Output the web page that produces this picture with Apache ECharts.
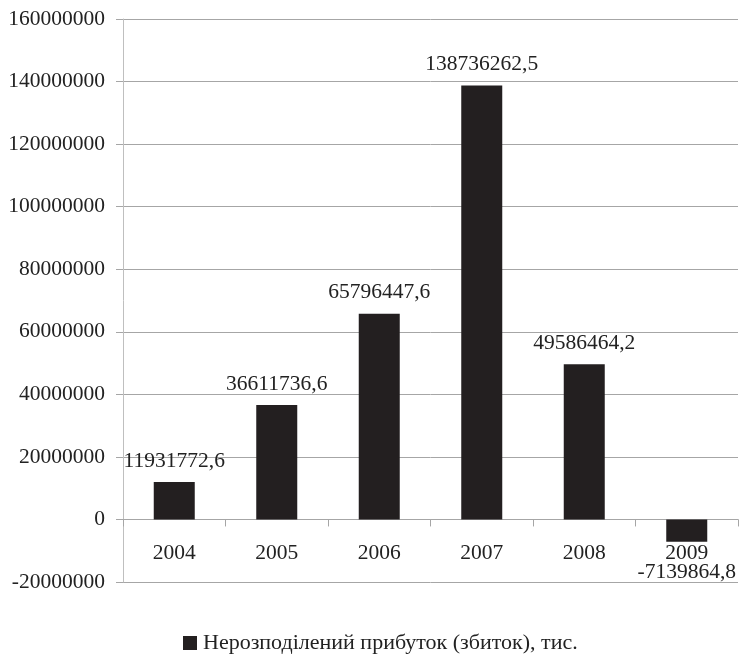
<!DOCTYPE html>
<html>
<head>
<meta charset="utf-8">
<script src="https://cdn.jsdelivr.net/npm/echarts@6/dist/echarts.min.js"></script>
<style>
  html, body { margin: 0; padding: 0; background: #fff; }
  #chart { width: 741px; height: 657px; }
</style>
</head>
<body>
<div id="chart"></div>
<script>
// дані
const years = ['2004', '2005', '2006', '2007', '2008', '2009']
const profit = [11931772.6, 36611736.6, 65796447.6, 138736262.5, 49586464.2, -7139864.8]
const seriesName = 'Нерозподілений прибуток (збиток), тис.'

const font = 'Liberation Serif, Times New Roman, serif'

const chart = echarts.init(document.getElementById('chart'))

const fmt = v => String(v).replace('.', ',')

chart.setOption({
  backgroundColor: '#ffffff',
  animation: false,
  textStyle: { fontFamily: font },
  grid: { left: 123, right: 3, top: 19, bottom: 75 },
  legend: {
    top: 632,
    left: 183,
    padding: 0,
    itemWidth: 14,
    itemHeight: 14,
    icon: 'rect',
    itemGap: 5,
    textStyle: { fontFamily: font, fontSize: 22, color: '#222', padding: [0, 0, 0, 1] },
    data: [seriesName]
  },
  xAxis: {
    type: 'category',
    data: years,
    axisLine: { onZero: true, lineStyle: { color: '#a6a6a6', width: 1 } },
    axisTick: { show: true, length: 7, lineStyle: { color: '#a6a6a6' } },
    axisLabel: { fontFamily: font, fontSize: 21.5, color: '#222', margin: -40 }
  },
  yAxis: {
    type: 'value',
    min: -20000000,
    max: 160000000,
    interval: 20000000,
    axisLine: { show: true, lineStyle: { color: '#bfbfbf' } },
    axisTick: { show: true, length: 7, lineStyle: { color: '#a6a6a6' } },
    axisLabel: { fontFamily: font, fontSize: 21.5, color: '#222', margin: 18, formatter: v => String(v) },
    splitLine: { show: true, lineStyle: { color: '#a6a6a6', width: 1 } }
  },
  series: [{
    name: seriesName,
    type: 'bar',
    barWidth: 41,
    itemStyle: { color: '#231f20' },
    label: {
      show: true,
      position: 'top',
      distance: 10,
      fontFamily: font,
      fontSize: 21.5,
      color: '#222',
      formatter: p => fmt(p.value)
    },
    data: profit.map(v => v < 0
      ? { value: v, label: { position: 'bottom', distance: 20 } }
      : v)
  }]
})
</script>
</body>
</html>
